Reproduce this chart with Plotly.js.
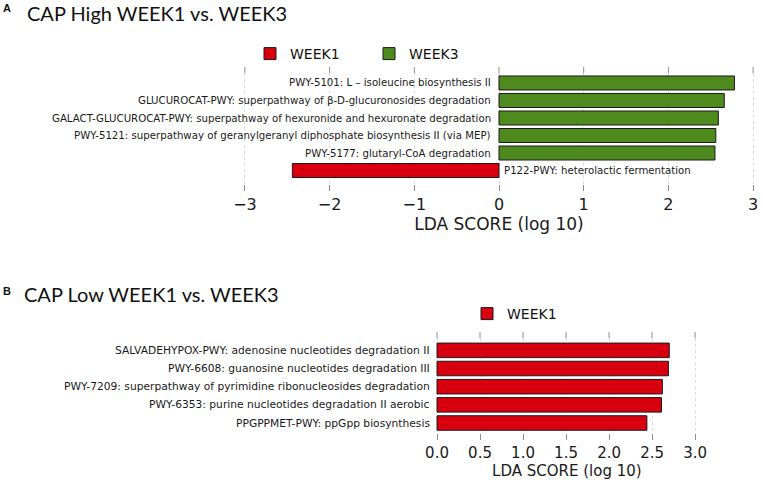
<!DOCTYPE html>
<html><head><meta charset="utf-8">
<script src="https://cdn.plot.ly/plotly-3.0.1.min.js"></script>
<style>html,body{margin:0;padding:0;background:#fff}#chart{width:763px;height:485px}</style>
</head><body><div id="chart"></div>
<script>
// Panel A: CAP High WEEK1 vs. WEEK3 (bottom-first order)
const pathwaysA = [
  "P122-PWY: heterolactic fermentation",
  "PWY-5177: glutaryl-CoA degradation",
  "PWY-5121: superpathway of geranylgeranyl diphosphate biosynthesis II (via MEP)",
  "GALACT-GLUCUROCAT-PWY: superpathway of hexuronide and hexuronate degradation",
  "GLUCUROCAT-PWY: superpathway of β-D-glucuronosides degradation",
  "PWY-5101: L – isoleucine biosynthesis II"
];
const ldaA = [-2.44, 2.55, 2.56, 2.59, 2.66, 2.78];
const groupsA = ["WEEK1", "WEEK3", "WEEK3", "WEEK3", "WEEK3", "WEEK3"];

// Panel B: CAP Low WEEK1 vs. WEEK3 (bottom-first order)
const pathwaysB = [
  "PPGPPMET-PWY: ppGpp biosynthesis",
  "PWY-6353: purine nucleotides degradation II aerobic",
  "PWY-7209: superpathway of pyrimidine ribonucleosides degradation",
  "PWY-6608: guanosine nucleotides degradation III",
  "SALVADEHYPOX-PWY: adenosine nucleotides degradation II"
];
const ldaB = [2.44, 2.61, 2.62, 2.69, 2.70];
const groupsB = ["WEEK1", "WEEK1", "WEEK1", "WEEK1", "WEEK1"];

const tickValsA = [-3, -2, -1, 0, 1, 2, 3];
const tickValsB = [0, 0.5, 1, 1.5, 2, 2.5, 3];
const tickTextB = ["0.0", "0.5", "1.0", "1.5", "2.0", "2.5", "3.0"];

const groupNames = ["WEEK1", "WEEK3"];
const groupColors = {WEEK1: "#d8000f", WEEK3: "#4e8a1e"};

const W = 763, H = 485;
const px = v => v / W;
const py = v => 1 - v / H;

// plot-area placement (pixels from the top-left of the figure)
const domA = {x: [240.7, 757.3], y: [184, 73]};
const domB = {x: [435.3, 698.5], y: [433, 338]};

function pick(cats, vals, groups, g) {
  const y = [], x = [];
  groups.forEach((gg, i) => { if (gg === g) { y.push(cats[i]); x.push(vals[i]); } });
  return {x, y};
}

const traces = [];
groupNames.forEach(g => {
  const d = pick(pathwaysA, ldaA, groupsA, g);
  if (d.x.length) traces.push({
    type: "bar", orientation: "h", x: d.x, y: d.y, name: g,
    xaxis: "x", yaxis: "y", width: 0.8, legend: "legend",
    marker: {color: groupColors[g], line: {color: "#1a1a1a", width: 1}},
    hoverinfo: "x+y"
  });
});
groupNames.forEach(g => {
  const d = pick(pathwaysB, ldaB, groupsB, g);
  if (d.x.length) traces.push({
    type: "bar", orientation: "h", x: d.x, y: d.y, name: g,
    xaxis: "x2", yaxis: "y2", width: 0.8, legend: "legend2",
    marker: {color: groupColors[g], line: {color: "#1a1a1a", width: 1}},
    hoverinfo: "x+y"
  });
});

const labelFontA = {family: "DejaVu Sans, sans-serif", size: 10.2, color: "#1a1a1a"};
const labelFontB = {family: "DejaVu Sans, sans-serif", size: 10.7, color: "#1a1a1a"};
const annotations = [];
pathwaysA.forEach((p, i) => {
  const pos = ldaA[i] > 0;
  annotations.push({xref: "x", yref: "y", x: 0, y: p, text: p, showarrow: false,
    xanchor: pos ? "right" : "left", xshift: pos ? -6 : 3, font: labelFontA});
});
pathwaysB.forEach((p, i) => {
  const pos = ldaB[i] > 0;
  annotations.push({xref: "x2", yref: "y2", x: 0, y: p, text: p, showarrow: false,
    xanchor: pos ? "right" : "left", xshift: pos ? -5 : 3, font: labelFontB});
});
annotations.push(
  {xref: "paper", yref: "paper", x: px(7), y: py(8), text: "<b>A</b>", showarrow: false,
   xanchor: "center", yanchor: "middle", font: {family: "Liberation Sans, Arial", size: 11, color: "#111"}},
  {xref: "paper", yref: "paper", x: px(25), y: py(12.5), text: "CAP High WEEK1 vs. WEEK3", showarrow: false,
   xanchor: "left", yanchor: "middle", font: {family: "Lato, sans-serif", size: 20, color: "#111"}},
  {xref: "paper", yref: "paper", x: px(7), y: py(291), text: "<b>B</b>", showarrow: false,
   xanchor: "center", yanchor: "middle", font: {family: "Liberation Sans, Arial", size: 11, color: "#111"}},
  {xref: "paper", yref: "paper", x: px(22), y: py(294), text: "CAP Low WEEK1 vs. WEEK3", showarrow: false,
   xanchor: "left", yanchor: "middle", font: {family: "Lato, sans-serif", size: 20, color: "#111"}}
);

// mirrored tick marks along the top edge of each plot, placed at the axis tick values
const tickColor = "#8c8c8c";
const shapes = [];
tickValsA.forEach(t => shapes.push({type: "line", xref: "x", yref: "paper", x0: t, x1: t,
  ysizemode: "pixel", yanchor: py(domA.y[1]), y0: 0, y1: 6, line: {color: tickColor, width: 1}}));
tickValsB.forEach(t => shapes.push({type: "line", xref: "x2", yref: "paper", x0: t, x1: t,
  ysizemode: "pixel", yanchor: py(domB.y[1]), y0: 0, y1: 6, line: {color: tickColor, width: 1}}));

const axisCommon = {
  showline: false, zeroline: false,
  ticks: "outside", ticklen: 6, tickwidth: 1, tickcolor: tickColor,
  showgrid: true, gridcolor: "#dadada", griddash: "dot", gridwidth: 1,
  fixedrange: true
};

const layout = {
  width: W, height: H, margin: {l: 0, r: 0, t: 0, b: 0},
  paper_bgcolor: "#fff", plot_bgcolor: "rgba(0,0,0,0)",
  barmode: "overlay", showlegend: true,
  xaxis: Object.assign({}, axisCommon, {
    domain: [px(domA.x[0]), px(domA.x[1])], range: [-3.05, 3.05], anchor: "y",
    tickvals: tickValsA, tickfont: {family: "DejaVu Sans, sans-serif", size: 16, color: "#1a1a1a"},
    title: {text: "LDA SCORE (log 10)", standoff: 3, font: {family: "DejaVu Sans, sans-serif", size: 17, color: "#1a1a1a"}}
  }),
  yaxis: {domain: [py(domA.y[0]), py(domA.y[1])], type: "category", categoryorder: "array", categoryarray: pathwaysA,
    range: [-0.77, 5.57], showticklabels: false, ticks: "", showgrid: false, zeroline: false, showline: false,
    anchor: "x", fixedrange: true},
  xaxis2: Object.assign({}, axisCommon, {
    domain: [px(domB.x[0]), px(domB.x[1])], range: [-0.02, 3.04], anchor: "y2",
    tickvals: tickValsB, ticktext: tickTextB, tickfont: {family: "DejaVu Sans, sans-serif", size: 15, color: "#1a1a1a"},
    title: {text: "LDA SCORE (log 10)", standoff: 1, font: {family: "DejaVu Sans, sans-serif", size: 15, color: "#1a1a1a"}}
  }),
  yaxis2: {domain: [py(domB.y[0]), py(domB.y[1])], type: "category", categoryorder: "array", categoryarray: pathwaysB,
    range: [-0.55, 4.68], showticklabels: false, ticks: "", showgrid: false, zeroline: false, showline: false,
    anchor: "x2", fixedrange: true},
  legend: {orientation: "h", x: px(250), xanchor: "left", y: py(38), yanchor: "top",
    font: {family: "DejaVu Sans, sans-serif", size: 14, color: "#111"}, bgcolor: "rgba(0,0,0,0)",
    traceorder: "normal", entrywidth: 74},
  legend2: {orientation: "h", x: px(467), xanchor: "left", y: py(298), yanchor: "top",
    font: {family: "DejaVu Sans, sans-serif", size: 14, color: "#111"}, bgcolor: "rgba(0,0,0,0)"},
  shapes: shapes,
  annotations: annotations
};

Plotly.newPlot("chart", traces, layout, {displayModeBar: false, staticPlot: true});
</script>
</body></html>
